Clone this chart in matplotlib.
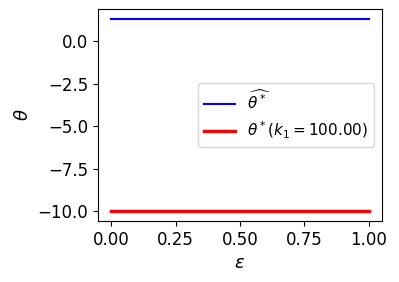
import numpy as np
import matplotlib
matplotlib.use('Agg')
import matplotlib.pyplot as plt

eps = [0.0, 0.25, 0.5, 0.75, 1.0]
theta_hat = [1.34, 1.34, 1.34, 1.34, 1.34]
theta_star = [-10.0, -10.0, -10.0, -10.0, -10.0]
k1 = 100.0

fig, ax = plt.subplots(figsize=(3.99, 2.82), dpi=100)
fig.subplots_adjust(left=0.246, right=0.957, bottom=0.216, top=0.968)

ax.plot(eps, theta_hat, color='blue', lw=1.5, label=r'$\widehat{\theta^*}$')
ax.plot(eps, theta_star, color='red', lw=2.5, label=r'$\theta^*(k_1=%.2f)$' % k1)

ax.set_xlabel(r'$\epsilon$', fontsize=13)
ax.set_ylabel(r'$\theta$', fontsize=13)
ax.set_xticks([0.0, 0.25, 0.5, 0.75, 1.0])
ax.set_yticks([0.0, -2.5, -5.0, -7.5, -10.0])
ax.tick_params(labelsize=12)
ax.legend(loc='center right', fontsize=11)

fig.savefig('out.png', dpi=100)
